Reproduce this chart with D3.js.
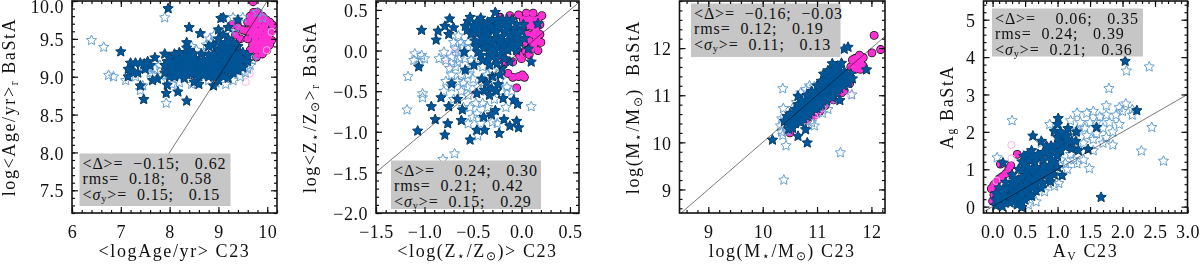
<!DOCTYPE html>
<html>
<head>
<meta charset="utf-8">
<script src="https://cdn.jsdelivr.net/npm/d3@7"></script>
<style>
  html, body { margin: 0; padding: 0; background: #fff; }
  svg { display: block; }
  text { font-family: "Liberation Serif", serif; fill: #111; }
</style>
</head>
<body>
<svg id="chart"></svg>
<script>
const width = 1200;
const height = 264;

// panel 1: age
const ageMagenta = [[9.71,9.99],[9.72,9.85],[9.8,9.85],[9.9,9.8],[9.98,9.75],[10.05,9.72],[10.11,9.68],[10.09,9.6],[10.09,9.48],[10.05,9.42],[9.99,9.35],[9.9,9.3],[9.78,9.26],[9.55,9.61],[9.6,9.72],[9.65,9.8],[9.29,9.69],[9.4,9.66],[9.5,9.62],[9.7,9.7],[9.8,9.7],[9.9,9.65],[10,9.6],[9.7,9.55],[9.8,9.55],[9.9,9.5],[10,9.48],[9.6,9.5],[9.7,9.42],[9.8,9.4],[9.9,9.4],[9.45,9.5],[9.35,9.55],[9.3,9.1],[9.65,9.35],[9.75,9.62],[9.85,9.6],[9.95,9.55],[9.75,9.78],[9.85,9.75],[9.95,9.68],[9.65,9.62],[9.6,9.6],[9.75,9.48],[9.85,9.45],[9.95,9.42],[10.03,9.55],[9.68,9.72],[9.78,9.35],[9.88,9.35]];
const agePinkOpen = [[9.64,9.04],[9.56,8.93],[10.09,9.59],[9.99,9.35]];
const ageOpen = [[6.4,9.48],[6.65,9.39],[6.75,9.02],[6.85,9],[7.1,8.95],[7.4,8.82],[7.45,8.88],[7.93,8.65],[7.9,9.78],[9.8,9.85],[9.9,9.78],[7.3,9],[7.6,9.05],[7.7,9.1],[7.85,9.02],[7.95,8.95],[8.05,8.9],[8.2,8.92],[8.3,9.25],[8.45,9.4],[8.55,9.35],[8.75,9.42],[8.82,9.5],[8.92,9.55],[9.25,9.55],[9.35,9.65],[9.5,9.78],[9.6,9.1],[9.55,9.05],[9.45,9],[9.3,8.95],[9.15,8.9],[8.95,8.92],[8.8,8.95],[8.45,8.9],[8.7,9.3],[8.3,9.12],[8.5,9.1],[9.05,9.08],[7.55,9.12],[7.8,9.15],[8.85,9.45],[9.3,9.78],[9.65,9.15],[9.7,9.22],[7.65,9.02],[7.35,9.12]];
const ageFilled = [[7.97,9.9],[7,9.33],[7.15,9.1],[7.2,9.18],[7.25,9.05],[7.15,9],[7.4,9.18],[7.55,9.2],[7.7,9.25],[7.5,9.1],[7.4,8.88],[7.65,8.95],[7.75,8.97],[7.95,8.89],[7.93,8.78],[8.17,8.8],[8.35,8.68],[7.47,8.7],[7.9,9.3],[8.4,9.65],[8.63,9.57],[9.05,9.77],[9.1,9.78],[9.4,9.75],[8.35,9.45],[7.3,9.18],[7.2,9.08],[7.48,9.17],[7.6,9.15],[7.35,9.05],
[7.9,9.05],[7.9,9.15],[7.95,9.2],[8,9],[8,9.1],[8,9.2],[8,9.25],[8.05,9.05],[8.05,9.14],[8.1,9],[8.1,9.08],[8.1,9.18],[8.1,9.3],[8.15,9.05],[8.15,9.13],[8.15,9.23],[8.2,9.02],[8.2,9.12],[8.2,9.22],[8.2,9.32],[8.25,9.05],[8.25,9.15],[8.25,9.25],[8.3,8.98],[8.3,9.08],[8.3,9.18],[8.3,9.28],[8.35,9.38],[8.35,9.03],[8.35,9.12],[8.35,9.22],[8.4,9.05],[8.4,9.15],[8.4,9.25],[8.4,9.35],[8.45,9.08],[8.45,9.2],[8.45,9.3],[8.5,8.93],[8.5,9.03],[8.5,9.14],[8.5,9.24],[8.5,9.3],[8.55,9.05],[8.55,9.18],[8.6,8.9],[8.6,9],[8.6,9.1],[8.6,9.2],[8.65,9.3],[8.65,9.05],[8.65,9.15],[8.7,9.02],[8.7,9.12],[8.7,9.22],[8.75,9.08],[8.75,9.18],[8.8,9],[8.8,9.1],[8.8,9.2],[8.8,9.28],[8.8,9.4],[8.85,9.05],[8.85,9.15],[8.85,9.25],[8.9,8.88],[8.9,9],[8.9,9.1],[8.9,9.2],[8.9,9.3],[8.9,9.42],[8.95,9.05],[8.95,9.15],[8.95,9.25],[9,8.95],[9,9.05],[9,9.15],[9,9.25],[9,9.35],[9,9.5],[9,9.62],[9.05,9.1],[9.05,9.2],[9.05,9.3],[9.05,9.42],[9.1,9],[9.1,9.1],[9.1,9.2],[9.1,9.3],[9.1,9.4],[9.1,9.55],[9.15,9.15],[9.15,9.25],[9.15,9.35],[9.15,9.45],[9.2,8.98],[9.2,9.08],[9.2,9.18],[9.2,9.28],[9.2,9.38],[9.2,9.5],[9.2,9.65],[9.25,9.12],[9.25,9.22],[9.25,9.32],[9.25,9.42],[9.3,9.05],[9.3,9.15],[9.3,9.25],[9.3,9.35],[9.3,9.45],[9.35,9.1],[9.35,9.2],[9.35,9.3],[9.4,9.08],[9.4,9.18],[9.4,9.28],[9.4,9.4],[9.45,9.14],[9.45,9.24],[9.5,9.12],[9.5,9.22],[9.5,9.32],[9.6,9.2],[9.6,9.28]];

// panel 2: metallicity
const metMagenta = [[-0.22,0.41],[-0.12,0.43],[-0.03,0.44],[0.05,0.46],[0.12,0.46],[0.21,0.43],[0.19,0.32],[0.19,0.2],[0.2,0.1],[0.17,0],[0.1,0.02],[0.05,0.3],[0.1,0.3],[0.12,0.2],[0.15,0.12],[0.08,0.12],[0.12,0.38],[-0.19,-0.08],[-0.09,-0.33],[0.01,-0.3],[-0.05,-0.46],[-0.14,-0.28],[-0.09,-0.14],[0,-0.1],[-0.04,-0.02],[0.08,-0.05],[0.03,-0.33],[-0.03,-0.32],[-0.16,-0.14],[0.17,0.38],[0.15,0.25],[0.08,0.38],[0.13,0.07],[0.16,0.16],[0.06,0.2],[0.05,0.1],[0.04,0],[-0.02,-0.06],[0.02,0.38]];
const metPinkOpen = [[-0.77,-0.16],[-0.69,-0.02],[-0.43,0],[-0.48,-0.53]];
const metOpen = [[-1.17,-0.32],[-1.18,-0.73],[-1.02,-0.53],[-1.02,-0.58],[-1.1,-0.04],[-1.03,-0.06],[-1,-0.1],[-1.11,-0.12],[-1.05,-0.16],[0.1,-0.69],[-0.69,-1.27],[-0.81,-1.34],[-0.8,-0.02],[-0.85,-0.1],[-0.78,-0.12],[-0.72,-0.08],[-0.7,0.1],[-0.65,0.18],[-0.6,0.05],[-0.66,-0.15],[-0.58,-0.1],[-0.72,-0.3],[-0.68,-0.2],[-0.62,-0.3],[-0.55,-0.3],[-0.6,-0.4],[-0.72,-0.45],[-0.78,-0.38],[-0.8,-0.5],[-0.7,-0.6],[-0.62,-0.5],[-0.55,-0.55],[-0.6,-0.7],[-0.53,-0.7],[-0.47,-0.65],[-0.4,-0.65],[-0.5,-0.82],[-0.55,-0.9],[-0.42,-0.9],[-0.3,-0.88],[-0.25,-0.9],[-0.35,-0.7],[-0.28,-0.6],[-0.2,-0.5],[-0.15,-0.45],[-0.45,-0.45],[-0.5,-0.35],[-0.4,-0.2],[-0.35,-0.3],[-0.28,-0.4],[-0.3,-0.25],[-0.65,-0.02],[-0.55,0.1],[-0.5,0.05],[-0.45,-0.1],[-0.52,-0.22],[-0.45,-1.05],[-0.68,0.02],[-0.74,-0.22],[-0.64,-0.1],[-0.56,-0.45],[-0.66,-0.38],[-0.42,-0.5],[-0.34,-0.42],[-0.22,-0.36],[-0.1,-0.5],[-0.16,-0.7],[-0.46,-0.78],[-0.62,0.1],[-0.52,-0.12]];
const metFilled = [[-1.03,0.25],[-1.06,-0.2],[-1.07,-0.99],[-0.89,-0.85],[-0.93,-0.69],[-0.83,-0.58],[-0.75,-0.69],[-0.76,-0.9],[-0.79,-1.04],[-0.66,-0.6],[-0.61,-0.73],[-0.62,-0.86],[-0.53,-1.1],[-0.46,-0.98],[-0.38,-0.98],[-0.23,-1.02],[-0.39,-0.82],[-0.31,-0.79],[-0.27,-0.74],[-0.18,-0.85],[-0.12,-0.93],[-0.05,-0.87],[-0.03,-0.95],[-0.08,-0.61],[-0.04,-0.66],[-0.19,-0.59],[-0.38,-0.49],[-0.31,-0.47],[-0.46,-0.53],[-0.72,-0.41],[-0.58,-0.24],[-0.59,-0.02],[-0.49,-0.18],[-0.41,-0.35],[-0.33,-0.55],[-0.26,-0.5],
[-0.88,0.13],[-0.86,0.24],[-0.79,0.3],[-0.74,0.39],[-0.7,0.28],[-0.75,0.2],[-0.53,0.41],[-0.27,0.47],[-0.58,0.3],[-0.5,0.3],[-0.42,0.4],[-0.35,0.35],[-0.2,0.38],[-0.1,0.38],[-0.05,0.32],[0.02,0.32],[-0.52,0.2],[-0.45,0.22],[-0.38,0.25],[-0.3,0.27],[-0.22,0.28],[-0.14,0.28],[-0.42,0.1],[-0.35,0.12],[-0.27,0.15],[-0.2,0.17],[-0.12,0.18],[-0.03,0.2],[-0.33,0.02],[-0.25,0.04],[-0.18,0.06],[-0.1,0.08],[-0.02,0.1],[0.03,0.15],[-0.3,-0.08],[-0.22,-0.05],[-0.14,0],[-0.05,0],[-0.33,-0.18],[-0.25,-0.16],[-0.4,-0.12],[-0.25,0.33],[-0.13,0.33],[0.17,0.33],[0.1,-0.14],[0.07,0.02],[-0.45,-0.02],[-0.2,-0.22],[-0.12,-0.14],
[-0.46,0.35],[-0.38,0.32],[-0.3,0.38],[-0.17,0.33],[-0.07,0.26],[-0.34,0.2],[-0.26,0.22],[-0.17,0.23],[-0.08,0.22],[-0.38,0.17],[-0.3,0.09],[-0.22,0.11],[-0.14,0.12],[-0.06,0.15],[-0.28,-0.01],[-0.2,0],[-0.1,0.03],[-0.26,-0.1],[-0.18,-0.1],[-0.34,-0.06],[-0.36,0.05],[-0.48,0.12],[-0.04,0.07],[0,0.24],[-0.3,-0.32],[-0.22,-0.3],[-0.24,-0.42],[-0.36,-0.4],
[-0.47,0.05],[-0.55,0.36],[-0.56,0.25],[-0.48,0.26],[-0.41,0.16],[-0.44,0.3],[-0.39,0.03],[-0.35,-0.12],[-0.42,-0.06],[-0.32,0.3],[-0.24,0.38],[-0.15,0.38]];

// panel 3: stellar mass
const massMagenta = [[12.05,12.27],[12.01,11.9],[12.17,11.97],[11.78,11.85],[11.7,11.78],[11.65,11.75],[11.85,11.8],[11.8,11.7],[11.72,11.65],[11.8,11.55],[11.7,11.55],[11.85,11.62],[11.62,11.6],[10.5,10.2],[10.82,10.47],[10.95,10.56],[11.05,10.66],[11.15,10.78],[11.3,10.9],[11.45,11.05],[11.5,11.1],[11.6,11.25]];
const massPinkOpen = [[11.62,11],[11.3,11.05],[11.1,10.72],[10.95,10.55],[10.82,10.47],[11,10.6]];
const massOpen = [[10.37,11.14],[10.38,10.72],[10.43,9.93],[10.39,9.2],[11.43,9.78],[11.64,11.01],[10.33,10.35],[10.35,10.22],[10.42,10.48],[10.45,10.25],[10.37,10.15],[10.8,11.12],[10.86,11.2],[10.7,11.05],[10.95,11.18],[11.35,10.92],[11.2,10.7],[11.1,10.62],[10.9,10.42],[10.95,10.35],[10.72,10.45],[10.55,10.72],[10.62,10.85],[10.35,10.5]];
const massFilled = [[10.18,10.05],[10.65,10.13],[10.82,9.99],[10.79,10.27],[11.57,12.02],[11.5,11.98],[11.28,11.67],[11.91,11.54],[10.65,10.98],[11.42,10.89],[11.38,11.62],[11.45,11.68],
[10.45,10.55],[10.5,10.6],[10.5,10.35],[10.55,10.3],[10.6,10.4],[10.6,10.55],[10.6,10.7],[10.65,10.5],[10.7,10.42],[10.72,10.6],[10.72,10.75],[10.78,10.85],[10.8,10.7],[10.82,10.55],[10.9,10.65],[10.9,10.8],[10.9,10.95],[10.98,11],[11,10.85],[11,10.72],[11.08,10.8],[11.08,10.95],[11.08,11.1],[11.15,11.2],[11.15,11.05],[11.18,10.88],[11.25,10.98],[11.25,11.15],[11.25,11.3],[11.32,11.4],[11.33,11.2],[11.35,11.05],[11.42,11.15],[11.42,11.32],[11.42,11.48],[11.5,11.5],[11.5,11.3],[11.55,11.42],[11.58,11.25],[11.62,11.45],[11.65,11.35],[11.2,11.4],[11.12,11.3],
[10.5,10.48],[10.55,10.45],[10.55,10.6],[10.65,10.62],[10.68,10.72],[10.65,10.8],[10.75,10.5],[10.78,10.62],[10.78,10.75],[10.85,10.6],[10.85,10.72],[10.85,10.88],[10.95,10.72],[10.95,10.85],[10.95,11],[11.03,10.78],[11.03,10.92],[11.03,11.08],[11.1,10.88],[11.1,11.02],[11.1,11.2],[11.18,10.98],[11.18,11.12],[11.18,11.3],[11.3,11.08],[11.3,11.3],[11.38,11.12],[11.38,11.28],[11.38,11.42],[11.46,11.22],[11.46,11.4],[11.54,11.34],[11.6,11.38],[10.45,10.42],[10.4,10.45],[10.48,10.28],
[10.72,10.88],[10.82,11],[10.9,11.08],[11,11.2],[11.08,11.3],[11.12,11.45],[11.2,11.52],[11.3,11.55],[11.4,11.58],[11.28,10.95],[11.5,11.2],[11.3,11.45]];

// panel 4: extinction
const avMagenta = [[0.38,1.4],[0.12,1.14],[-0.02,0.48],[0.02,0.58],[0.06,0.66],[0.1,0.74],[0.15,0.8],[0.2,0.88],[0.25,1.02],[0.28,1.1],[0.02,0.32],[0,0.15],[0.08,0.45]];
const avPinkOpen = [[0.29,1.65],[0.29,1.29],[0.06,0.69],[0.9,1.65]];
const avOpen = [[0.3,2.3],[0.07,1.31],[2.06,3.63],[2.41,3.74],[1.79,3.16],[2.45,2.12],[2.29,1.49],[2.63,1.22],[0.67,0.13],[0.8,0.4],[1.49,1.02],[0.88,2.2],[0.95,2],[0.75,1.7],[1.1,1.7],[1.2,1.4],[1.3,1.15],[1.05,1.25],[1.4,1.25],[1.3,2.5],[1.45,2.5],[1.55,2.55],[1.35,2.25],[1.5,2.25],[1.65,2.4],[1.75,2.45],[1.8,2.25],[1.7,2.1],[1.6,1.95],[1.75,1.85],[1.85,2],[1.85,1.65],[1.7,1.7],[1.55,1.8],[1.45,1.9],[1.4,1.7],[1.55,1.5],[1.95,2.65],[2.05,2.75],[2,2.55],[2.15,2.6],[2.15,2.45],[1.9,2.45],[1.95,2.2],[1.25,1.85],[1.3,1.55],[1.15,1],[0.95,0.95],[0.95,0.55],[0.7,0.6],[0.55,0.05],[1.75,2.7],[1.3,2.05],[1.6,2.25],[1.42,2.1],[1.2,2.3],[1.12,1.15],[1.25,1.25],[1.02,0.62],[0.85,0.62]];
const avFilled = [[2.04,3.89],[2.22,2.57],[1.67,0.25],[1.6,2.12],[1.47,1.53],[1.07,0.83],[1.01,2.36],[0.62,1.89],[1.29,2],[1.16,2.09],[0.16,1.17],[0.89,0.67],[1,2.2],[0.95,2.02],[1,1.85],[1.1,1.9],[1.22,1.75],[1.12,1.6],[1.22,1.55],[1.32,1.5],[0.75,1.75],[0.6,1.5],[0.48,1.35],[0.7,1.4],[0.85,1.5],[0.95,1.5],[1,1.35],[0.9,1.25],[0.8,1.1],[0.65,1.2],[0.5,1.1],[0.4,1],[0.3,0.85],[0.2,0.65],[0.1,0.5],[0.05,0.35],[0.05,0.18],[0.05,0.03],[0.15,0],[0.15,0.2],[0.15,0.38],[0.27,0.1],[0.27,0.28],[0.27,0.5],[0.38,0.05],[0.4,0.25],[0.4,0.45],[0.4,0.7],[0.52,0.9],[0.52,0.65],[0.52,0.42],[0.5,0.18],[0.45,-0.02],[0.62,0.95],[0.62,0.7],[0.62,0.5],[0.6,0.28],[0.72,0.95],[0.72,0.72],[0.75,0.5],[0.85,0.9],[0.9,1],[0.3,0.65],
[0.1,0.1],[0.1,0.28],[0.2,0.1],[0.2,0.3],[0.2,0.48],[0.33,0.18],[0.33,0.38],[0.33,0.58],[0.33,0.75],[0.45,0.12],[0.45,0.33],[0.45,0.55],[0.45,0.78],[0.45,0.98],[0.56,0.3],[0.56,0.55],[0.56,0.78],[0.56,1.02],[0.56,1.25],[0.67,0.42],[0.67,0.6],[0.67,0.83],[0.67,1.05],[0.67,1.3],[0.78,0.62],[0.78,0.85],[0.78,1],[0.78,1.25],[0.78,1.45],[0.88,0.8],[0.88,1.1],[0.88,1.35],[0.95,1.18],[1.05,1.5],[1.05,1.7],[1.05,2],[1.15,1.75],[1.15,1.9],[1.28,1.75],[0.9,1.62],[0.98,1.65],
[0.55,1.42],[0.45,1.2],[0.62,1.35],[0.83,1.62],[1,1.05],[0.95,0.85]];

// tick values per panel
const ageXTicks = [6, 7, 8, 9, 10];
const ageYTicks = [7.5, 8, 8.5, 9, 9.5, 10];
const metXTicks = [-1.5, -1, -0.5, 0, 0.5];
const metYTicks = [-2, -1.5, -1, -0.5, 0, 0.5];
const massXTicks = [9, 10, 11, 12];
const massYTicks = [9, 10, 11, 12];
const avXTicks = [0, 0.5, 1, 1.5, 2, 2.5, 3];
const avYTicks = [0, 1, 2, 3, 4, 5];

// stat box lines: [mean diff], [rms], [sigma]
const ageStats = ["-0.15;   0.62", "0.18;   0.58", "0.15;   0.15"];
const metStats = ["  0.24;   0.30", "0.21;   0.42", "0.15;   0.29"];
const massStats = ["-0.16;  -0.03", "0.12;   0.19", "0.11;   0.13"];
const avStats = ["  0.06;   0.35", "0.24;   0.39", "0.21;   0.36"];

const darkBlue = "#005596";
const darkEdge = "#0b2d52";
const openBlue = "#639fd2";
const magenta = "#fb2fd2";
const pinkOpen = "#ffb2ee";

const svg = d3.select("#chart").attr("width", width).attr("height", height);

const panels = [
  { id: "age", left: 72, right: 277, xDomain: [6, 10.2], yDomain: [7.2, 10], xTicks: ageXTicks, yTicks: ageYTicks, xMinor: 0.2, yMinor: 0.1, fmtX: "d", fmtY: ".1f",
    magenta: ageMagenta, pink: agePinkOpen, open: ageOpen, filled: ageFilled, line: [7.4, 10],
    box: [79.5, 230.5, 153.5, 206], stats: ageStats,
    xTitle: [["<logAge/yr> C23"]], yTitle: [["log<Age/yr>"], ["r", "sub"], [" BaStA"]], yTitleX: 15, yTitleY: 107 },
  { id: "met", left: 376, right: 579, xDomain: [-1.5, 0.593], yDomain: [-2, 0.61], xTicks: metXTicks, yTicks: metYTicks, xMinor: 0.1, yMinor: 0.1, fmtX: ".1f", fmtY: ".1f",
    magenta: metMagenta, pink: metPinkOpen, open: metOpen, filled: metFilled, line: [-1.5, 0.593],
    box: [391, 541, 160.5, 209], stats: metStats,
    xTitle: [["<log(Z"], ["⋆", "sub"], ["/Z"], ["⊙", "sub"], [")> C23"]], yTitle: [["log<Z"], ["⋆", "sub"], ["/Z"], ["⊙", "sub"], [">"], ["r", "sub"], [" BaStA"]], yTitleX: 316, yTitleY: 107 },
  { id: "mass", left: 679.5, right: 885, xDomain: [8.47, 12.25], yDomain: [8.5, 13], xTicks: massXTicks, yTicks: massYTicks, xMinor: 0.2, yMinor: 0.2, fmtX: "d", fmtY: "d",
    magenta: massMagenta, pink: massPinkOpen, open: massOpen, filled: massFilled, line: [8.5, 12.25],
    box: [691, 840.5, 3.5, 57], stats: massStats,
    xTitle: [["log(M"], ["⋆", "sub"], ["/M"], ["⊙", "sub"], [") C23"]], yTitle: [["log(M"], ["⋆", "sub"], ["/M"], ["⊙", "sub"], [")  BaStA"]], yTitleX: 639, yTitleY: 107 },
  { id: "av", left: 983.5, right: 1187.5, xDomain: [-0.14, 3], yDomain: [-0.17, 5.5], xTicks: avXTicks, yTicks: avYTicks, xMinor: 0.1, yMinor: 0.2, fmtX: ".1f", fmtY: "d",
    magenta: avMagenta, pink: avPinkOpen, open: avOpen, filled: avFilled, line: [-0.14, 3],
    box: [992, 1143, 8.5, 56.5], stats: avStats,
    xTitle: [["A"], ["V", "sub"], [" C23"]], yTitle: [["A"], ["g", "sub"], [" BaStA"]], yTitleX: 952.5, yTitleY: 107 }
];

const plotTop = 1;
const plotBottom = 213;

// five-pointed star with fatter arms than d3.symbolStar, like the IDL one
const fatStar = {
  draw(context, size) {
    const r = Math.sqrt(size);
    for (let i = 0; i < 10; i++) {
      const a = -Math.PI / 2 + i * Math.PI / 5;
      const q = i % 2 ? r * 0.47 : r;
      if (i === 0) context.moveTo(q * Math.cos(a), q * Math.sin(a));
      else context.lineTo(q * Math.cos(a), q * Math.sin(a));
    }
    context.closePath();
  }
};
const star = d3.symbol().type(fatStar).size(29)();

function richText(sel, parts) {
  parts.forEach((p, i) => {
    const sub = p[1] === "sub";
    const prevSub = i > 0 && parts[i - 1][1] === "sub";
    sel.append("tspan")
      .attr("font-size", sub ? "0.65em" : null)
      .attr("dy", sub ? "0.25em" : (prevSub ? "-0.1625em" : null))
      .style("font-style", p[1] === "it" ? "italic" : null)
      .style("white-space", "pre")
      .text(p[0]);
  });
}

// minor ticks come from the same scales, one step apart
function minorValues(domain, step) {
  const first = Math.ceil(domain[0] / step - 1e-6);
  const last = Math.floor(domain[1] / step + 1e-6);
  return d3.range(first, last + 1).map(i => i * step);
}

panels.forEach(p => {
  const x = d3.scaleLinear().domain(p.xDomain).range([p.left, p.right]);
  const y = d3.scaleLinear().domain(p.yDomain).range([plotBottom, plotTop]);
  const g = svg.append("g").attr("id", p.id);

  const clipId = "clip-" + p.id;
  g.append("clipPath").attr("id", clipId).append("rect")
    .attr("x", p.left).attr("y", plotTop).attr("width", p.right - p.left).attr("height", plotBottom - plotTop);
  const plot = g.append("g").attr("clip-path", `url(#${clipId})`);

  const at = d => `translate(${x(d[0])},${y(d[1])})`;

  // magenta circles: black edge pass, then the fill pass on top
  plot.selectAll(".edge").data(p.magenta).enter().append("circle")
    .attr("class", "edge").attr("cx", d => x(d[0])).attr("cy", d => y(d[1])).attr("r", 4.4).attr("fill", "#111");
  plot.selectAll(".mag").data(p.magenta).enter().append("circle")
    .attr("class", "mag").attr("cx", d => x(d[0])).attr("cy", d => y(d[1])).attr("r", 3.6).attr("fill", magenta);

  plot.selectAll(".pink").data(p.pink).enter().append("circle")
    .attr("class", "pink").attr("cx", d => x(d[0])).attr("cy", d => y(d[1])).attr("r", 3.6)
    .attr("fill", "none").attr("stroke", pinkOpen).attr("stroke-width", 1);

  plot.selectAll(".open").data(p.open).enter().append("path")
    .attr("class", "open").attr("d", star).attr("transform", at)
    .attr("fill", "none").attr("stroke", openBlue).attr("stroke-width", 1);

  // filled stars: same two passes, so a crowd reads as one solid shape
  plot.selectAll(".filled-edge").data(p.filled).enter().append("path")
    .attr("class", "filled-edge").attr("d", star).attr("transform", at)
    .attr("fill", darkEdge).attr("stroke", darkEdge).attr("stroke-width", 1);
  plot.selectAll(".filled").data(p.filled).enter().append("path")
    .attr("class", "filled").attr("d", star).attr("transform", at)
    .attr("fill", darkBlue);

  // multiply keeps the line gray on white and dark across the crowd
  plot.append("line")
    .attr("x1", x(p.line[0])).attr("y1", y(p.line[0]))
    .attr("x2", x(p.line[1])).attr("y2", y(p.line[1]))
    .attr("stroke", "#7a7a7a").attr("stroke-width", 1)
    .style("mix-blend-mode", "multiply");

  // stats box
  g.append("rect").attr("x", p.box[0]).attr("y", p.box[2])
    .attr("width", p.box[1] - p.box[0]).attr("height", p.box[3] - p.box[2]).attr("fill", "#c6c6c6");
  const labels = [
    [["<Δ>=  "], [p.stats[0].replace("-", "−").replace("-", "−")]],
    [["rms=  "], [p.stats[1]]],
    [["<"], ["σ", "it"], ["y", "sub"], [">=  "], [p.stats[2]]]
  ];
  labels.forEach((parts, i) => {
    const t = g.append("text").attr("x", p.box[0] + 3).attr("y", p.box[2] + 15 + i * 15.5)
      .attr("font-size", 16).style("letter-spacing", "0.9px");
    richText(t, parts);
  });

  // axes on all four sides, major and minor
  const fx = d3.format(p.fmtX);
  const fy = d3.format(p.fmtY);
  const xMinor = minorValues(p.xDomain, p.xMinor);
  const yMinor = minorValues(p.yDomain, p.yMinor);

  g.append("g").attr("transform", `translate(0,${plotBottom})`)
    .call(d3.axisBottom(x).tickValues(xMinor).tickSize(-3).tickFormat(""));
  g.append("g").attr("class", "major-x").attr("transform", `translate(0,${plotBottom})`)
    .call(d3.axisBottom(x).tickValues(p.xTicks).tickSize(-6).tickPadding(12).tickFormat(fx));
  g.append("g").attr("transform", `translate(0,${plotTop})`)
    .call(d3.axisTop(x).tickValues(xMinor).tickSize(-3).tickFormat(""));
  g.append("g").attr("transform", `translate(0,${plotTop})`)
    .call(d3.axisTop(x).tickValues(p.xTicks).tickSize(-6).tickFormat(""));

  g.append("g").attr("transform", `translate(${p.left},0)`)
    .call(d3.axisLeft(y).tickValues(yMinor).tickSize(-3).tickFormat(""));
  const glm = g.append("g").attr("class", "major-y").attr("transform", `translate(${p.left},0)`);
  glm.call(d3.axisLeft(y).tickValues(p.yTicks).tickSize(-6).tickPadding(8).tickFormat(fy));
  g.append("g").attr("transform", `translate(${p.right},0)`)
    .call(d3.axisRight(y).tickValues(yMinor).tickSize(-3).tickFormat(""));
  g.append("g").attr("transform", `translate(${p.right},0)`)
    .call(d3.axisRight(y).tickValues(p.yTicks).tickSize(-6).tickFormat(""));

  g.selectAll(".domain").remove();
  g.selectAll(".tick line").attr("stroke", "#111").attr("stroke-width", 1.2);
  g.selectAll(".tick text").attr("font-family", null).attr("font-size", 18).style("letter-spacing", "0.5px").attr("fill", "#111");
  glm.selectAll(".tick text").attr("dy", d => d === 10 && p.id === "age" ? "0.65em" : "0.37em");

  g.append("rect").attr("x", p.left).attr("y", plotTop).attr("width", p.right - p.left).attr("height", plotBottom - plotTop)
    .attr("fill", "none").attr("stroke", "#111").attr("stroke-width", 1.6);

  // axis titles
  const xt = g.append("text").attr("x", (p.left + p.right) / 2).attr("y", 257)
    .attr("text-anchor", "middle").attr("font-size", 18).style("letter-spacing", "1.6px");
  richText(xt, p.xTitle);
  const yt = g.append("text").attr("transform", `translate(${p.yTitleX},${p.yTitleY}) rotate(-90)`)
    .attr("text-anchor", "middle").attr("font-size", 18).style("letter-spacing", "1.6px");
  richText(yt, p.yTitle);
});
</script>
</body>
</html>
